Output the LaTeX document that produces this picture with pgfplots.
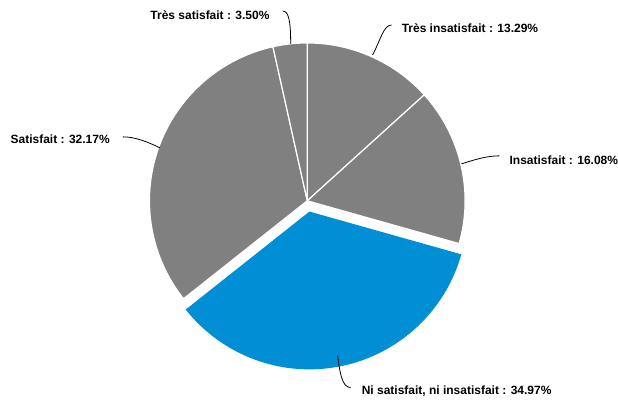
\documentclass[border=0pt]{standalone}
\usepackage{pgfplots}
\pgfplotsset{compat=1.18}
\usepackage{fontspec}
\setmainfont{Liberation Sans}
\definecolor{pieGray}{RGB}{128,128,128}
\definecolor{pieBlue}{RGB}{0,143,213}
% data (percent)
\def\vA{13.29}% Tres insatisfait
\def\vB{16.08}% Insatisfait
\def\vC{34.97}% Ni satisfait, ni insatisfait
\def\vD{32.17}% Satisfait
\def\vE{3.50}%  Tres satisfait
\def\cx{307.6}
\def\cy{205}
\def\R{158}
\tikzset{
  lbl/.style={font=\bfseries\fontsize{12bp}{14bp}\selectfont, text=black, inner sep=0pt},
  ldr/.style={draw=black, line width=0.8bp}}
\begin{document}
\begin{tikzpicture}
\pgfmathsetmacro\tA{0}
\pgfmathsetmacro\tB{3.6*\vA}
\pgfmathsetmacro\tC{3.6*(\vA+\vB)}
\pgfmathsetmacro\tD{3.6*(\vA+\vB+\vC)}
\pgfmathsetmacro\tE{3.6*(\vA+\vB+\vC+\vD)}
\pgfmathsetmacro\tF{360}
\pgfmathsetmacro\mid{(\tC+\tD)/2}
\pgfmathsetmacro\bx{\cx+11*sin(\mid)}
\pgfmathsetmacro\by{\cy+11*cos(\mid)}
\begin{axis}[x=1bp, y=1bp, xmin=0, xmax=618, ymin=0, ymax=406,
  hide axis, scale only axis, clip=false]
\path (axis cs:0,0) rectangle (axis cs:618,406);
% gray slices
\addplot[fill=pieGray, draw=white, line width=1.2bp, domain=\tA:\tB, samples=60, variable=\t]
  ({\cx+\R*sin(\t)}, {\cy+\R*cos(\t)}) -- (axis cs:\cx,\cy) -- cycle;
\addplot[fill=pieGray, draw=white, line width=1.2bp, domain=\tB:\tC, samples=60, variable=\t]
  ({\cx+\R*sin(\t)}, {\cy+\R*cos(\t)}) -- (axis cs:\cx,\cy) -- cycle;
\addplot[fill=pieGray, draw=white, line width=1.2bp, domain=\tD:\tE, samples=80, variable=\t]
  ({\cx+\R*sin(\t)}, {\cy+\R*cos(\t)}) -- (axis cs:\cx,\cy) -- cycle;
\addplot[fill=pieGray, draw=white, line width=1.2bp, domain=\tE:\tF, samples=20, variable=\t]
  ({\cx+\R*sin(\t)}, {\cy+\R*cos(\t)}) -- (axis cs:\cx,\cy) -- cycle;
% exploded blue slice
\addplot[fill=pieBlue, draw=none, domain=\tC:\tD, samples=100, variable=\t]
  ({\bx+\R*sin(\t)}, {\by+\R*cos(\t)}) -- (axis cs:\bx,\by) -- cycle;
% leader lines
\draw[ldr] (axis cs:373,351) .. controls (axis cs:381,366) and (axis cs:384,381) .. (axis cs:392,381);
\draw[ldr] (axis cs:291,362) .. controls (axis cs:291,385) and (axis cs:289,395) .. (axis cs:283,395);
\draw[ldr] (axis cs:462,242) .. controls (axis cs:475,246) and (axis cs:487,250) .. (axis cs:500,250);
\draw[ldr] (axis cs:160,258) .. controls (axis cs:148,264) and (axis cs:135,269) .. (axis cs:123,269);
\draw[ldr] (axis cs:338,50) .. controls (axis cs:340,35) and (axis cs:342,18) .. (axis cs:351,18);
% labels
\node[lbl, anchor=base west] at (axis cs:402,373.7) {Très insatisfait : 13.29\%};
\node[lbl, anchor=base east] at (axis cs:270,386.7) {Très satisfait : 3.50\%};
\node[lbl, anchor=base west] at (axis cs:510,241) {Insatisfait : 16.08\%};
\node[lbl, anchor=base east] at (axis cs:110,262.3) {Satisfait : 32.17\%};
\node[lbl, anchor=base west] at (axis cs:362,11) {Ni satisfait, ni insatisfait : 34.97\%};
\end{axis}
\end{tikzpicture}
\end{document}
